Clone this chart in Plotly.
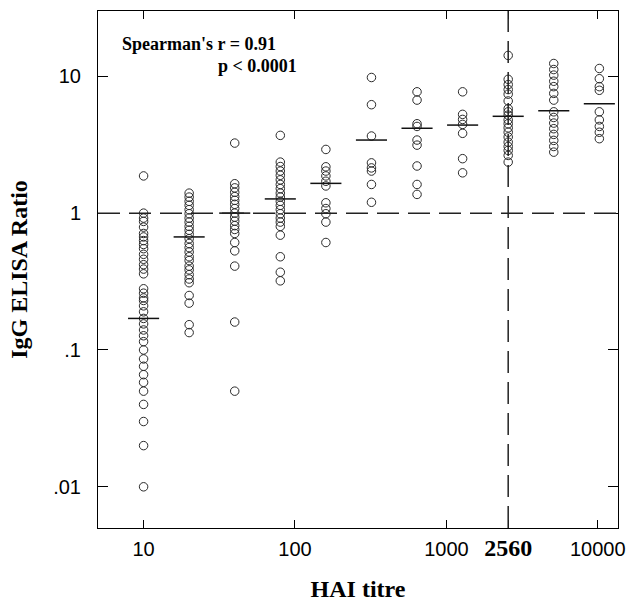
import math
import plotly.graph_objects as go

# ---- data ----
titres = [10, 20, 40, 80, 160, 320, 640, 1280, 2560, 5120, 10240]

g10 = [1.87, 1.0, 0.92, 0.87, 0.79, 0.71, 0.67, 0.63, 0.59, 0.55, 0.50, 0.46, 0.42,
       0.39, 0.36, 0.28, 0.26, 0.24, 0.23, 0.21, 0.19, 0.17, 0.155, 0.14, 0.127,
       0.115, 0.10, 0.086, 0.076, 0.066, 0.058, 0.05, 0.04, 0.03, 0.02, 0.01]
g20 = [1.40, 1.31, 1.22, 1.14, 1.06, 0.99, 0.92, 0.86, 0.80, 0.75, 0.70, 0.65, 0.60,
       0.56, 0.52, 0.48, 0.45, 0.41, 0.385, 0.355, 0.33, 0.31, 0.25, 0.22, 0.153, 0.134]
g40 = [3.25, 1.64, 1.53, 1.42, 1.32, 1.24, 1.16, 1.08, 1.0, 0.935, 0.874, 0.81, 0.76,
       0.71, 0.61, 0.53, 0.41, 0.16, 0.05]
g80 = [3.70, 2.36, 2.19, 2.03, 1.89, 1.75, 1.62, 1.51, 1.40, 1.31, 1.22, 1.14, 1.06,
       0.99, 0.92, 0.86, 0.80, 0.69, 0.48, 0.37, 0.32]
g160 = [2.92, 2.18, 2.03, 1.87, 1.71, 1.58, 1.19, 1.08, 0.99, 0.86, 0.61]
g320 = [9.8, 6.2, 3.66, 2.33, 2.14, 2.03, 1.62, 1.2]
g640 = [7.7, 6.7, 4.5, 4.3, 3.42, 3.14, 2.21, 1.62, 1.37]
g1280 = [7.7, 5.27, 4.84, 4.45, 3.83, 2.5, 1.97]
g2560 = [14.2, 9.5, 8.7, 8.0, 7.4, 6.6, 5.8, 5.5, 5.2, 4.8, 4.5, 4.2, 3.9, 3.6, 3.3,
         3.07, 2.87, 2.64, 2.36]
g5120 = [12.4, 11.2, 10.2, 9.2, 8.4, 7.5, 6.7, 5.5, 5.0, 4.55, 4.14, 3.76, 3.40, 3.07, 2.79]
g10240 = [11.4, 9.6, 8.4, 7.9, 5.5, 4.8, 4.3, 3.9, 3.5]

groups = [g10, g20, g40, g80, g160, g320, g640, g1280, g2560, g5120, g10240]
medians = [0.17, 0.67, 1.0, 1.27, 1.65, 3.42, 4.17, 4.4, 5.1, 5.6, 6.3]

x_tickvals = [10, 100, 1000, 2560, 10000]
x_ticktext = ["10", "100", "1000",
              '<span style="font-family:Liberation Serif;font-weight:bold;font-size:24px">2560</span>',
              "10000"]
y_tickvals = [0.01, 0.1, 1, 10]
y_ticktext = [".01", ".1", "1", "10"]

# ---- figure ----
fig = go.Figure()

xs, ys = [], []
for t, g in zip(titres, groups):
    xs += [t] * len(g)
    ys += g
fig.add_trace(go.Scatter(
    x=xs, y=ys, mode="markers",
    marker=dict(symbol="circle-open", size=8.5, color="#2a2a2a", line=dict(width=1)),
    showlegend=False, hoverinfo="skip"))

f = 10 ** (15.5 / 151)
mx, my = [], []
for t, m in zip(titres, medians):
    mx += [t / f, t * f, None]
    my += [m, m, None]
fig.add_trace(go.Scatter(x=mx, y=my, mode="lines",
                         line=dict(color="#111", width=1.5),
                         showlegend=False, hoverinfo="skip"))

fig.add_hline(y=1, line=dict(color="#222", width=1.5, dash="22px,9px"))
fig.add_vline(x=2560, line=dict(color="#222", width=1.5, dash="22px,9px"))

fig.add_annotation(text="Spearman's r = 0.91", xref="paper", yref="paper",
                   x=0.042, y=0.936, xanchor="left", yanchor="middle", showarrow=False,
                   font=dict(family="Liberation Serif", size=18, color="black", weight="bold"))
fig.add_annotation(text="p < 0.0001", xref="paper", yref="paper",
                   x=0.227, y=0.894, xanchor="left", yanchor="middle", showarrow=False,
                   font=dict(family="Liberation Serif", size=18, color="black", weight="bold"))

fig.update_xaxes(type="log", range=[math.log10(5), math.log10(13600)],
                 tickvals=x_tickvals, ticktext=x_ticktext, automargin=False,
                 ticks="inside", ticklen=8, tickcolor="black",
                 showline=True, linecolor="black", linewidth=1, mirror="ticks",
                 showgrid=False, zeroline=False, ticklabelstandoff=3,
                 tickfont=dict(family="Liberation Sans", size=20, color="black"),
                 title=dict(text="HAI titre", standoff=20,
                            font=dict(family="Liberation Serif", size=24, color="black", weight="bold")))
fig.update_yaxes(type="log", range=[math.log10(0.005), math.log10(30)],
                 tickvals=y_tickvals, ticktext=y_ticktext, automargin=False,
                 ticks="inside", ticklen=10, tickcolor="black",
                 showline=True, linecolor="black", linewidth=1, mirror="ticks",
                 showgrid=False, zeroline=False, ticklabelstandoff=12,
                 tickfont=dict(family="Liberation Sans", size=20, color="black"),
                 title=dict(text="IgG ELISA Ratio", standoff=18,
                            font=dict(family="Liberation Serif", size=24, color="black", weight="bold")))

fig.update_layout(width=629, height=603, margin=dict(l=98, r=11, t=11, b=75),
                  paper_bgcolor="white", plot_bgcolor="white")

fig.write_html("out.html", config={"displayModeBar": False},
               post_script="document.body.style.margin='0';")
